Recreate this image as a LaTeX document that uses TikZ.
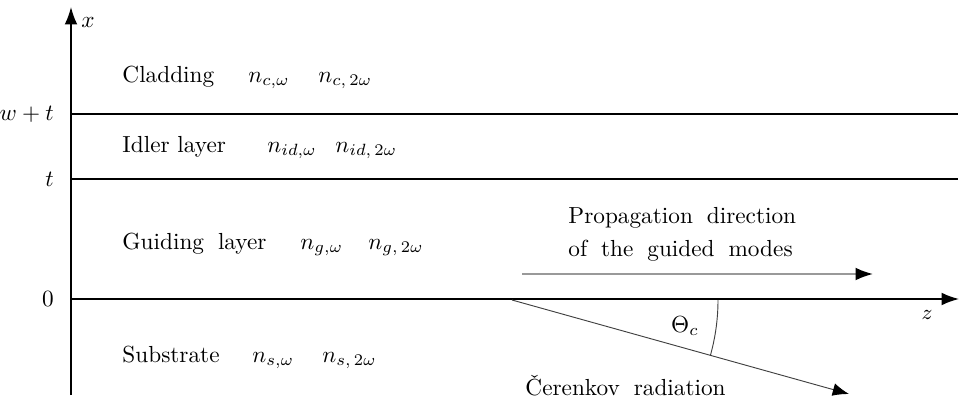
\documentclass[tikz,border=0pt]{standalone}
\usepackage{amsmath}
\usepackage{xcolor}
\usetikzlibrary{arrows.meta}

\tikzset{
    axis/.style={line width=0.7pt,-{Latex[length=7.5pt,width=5.5pt]}},
    interface/.style={line width=0.8pt},
    regiontext/.style={anchor=base west,inner sep=0pt},
    widetext/.style={anchor=base west,inner sep=0pt,font={\spaceskip=0.6em\relax}},
    guided/.style={line width=0.8pt,black!40,-{Latex[black,length=7.5pt,width=5.5pt]}},
    ray/.style={line width=0.4pt,black!75,-{Latex[black,length=7pt,width=5.5pt]}},
}

\begin{document}
\begin{tikzpicture}[x=0.43pt,y=-0.43pt]
    \useasboundingbox (0,0) rectangle (960,403);
    % axes
    \coordinate (origin) at (71,299);
    \coordinate (xtop) at (71,7);
    \coordinate (xbot) at (71,395);
    \coordinate (zend) at (959,299);
    \draw[axis] (xbot) -- (xtop);
    \draw[axis] (origin) -- (zend);
    \node (xlab) at (88,22) {$x$};
    \node (zlab) at (927,315) {\small$z$};
    % interfaces
    \coordinate (wtL) at (71,114);
    \coordinate (wtR) at (958,114);
    \coordinate (tL) at (71,179);
    \coordinate (tR) at (958,179);
    \draw[interface] (wtL) -- (wtR);
    \draw[interface] (tL) -- (tR);
    \draw[line width=0.95pt] (598,299) -- (652,299);
    \node[anchor=east] (lwt) at (62,114) {$w+t$};
    \node[anchor=east] (lt) at (62,179) {$t$};
    \node[anchor=east] (lzero) at (62,299) {$0$};
    % layers
    \node[regiontext] (clad) at (122,82) {Cladding};
    \node[regiontext] (cladw) at (248,82) {$n_{c,\omega}$};
    \node[regiontext] (cladtw) at (318,82) {$n_{c,\,2\omega}$};
    \node[regiontext] (idler) at (122,152) {Idler layer};
    \node[regiontext] (idlerw) at (267,152) {$n_{id,\omega}$};
    \node[regiontext] (idlertw) at (335,152) {$n_{id,\,2\omega}$};
    \node[widetext] (guide) at (122,249) {Guiding layer};
    \node[regiontext] (guidew) at (300,249) {$n_{g,\omega}$};
    \node[regiontext] (guidetw) at (368,249) {$n_{g,\,2\omega}$};
    \node[regiontext] (subs) at (122,362) {Substrate};
    \node[regiontext] (subsw) at (252,362) {$n_{s,\omega}$};
    \node[regiontext] (substw) at (322,362) {$n_{s,\,2\omega}$};
    % guided modes
    \node[widetext] (prop) at (568,223) {Propagation direction};
    \node[widetext] (prop2) at (568,256) {of the guided modes};
    \coordinate (pstart) at (522,274);
    \coordinate (pend) at (873,274);
    \draw[guided] (pstart) -- (pend);
    % Cerenkov radiation
    \coordinate (src) at (512,300);
    \coordinate (cer) at (849,394);
    \draw[ray] (src) -- (cer);
    \draw[line width=0.4pt,black!75] ([shift={(206,0)}]src) arc[start angle=0,end angle=15.6,radius=206];
    \node (theta) at (685,326) {$\Theta_c$};
    \node[widetext] (cerlab) at (525,395) {\v{C}erenkov radiation};
\end{tikzpicture}
\end{document}
